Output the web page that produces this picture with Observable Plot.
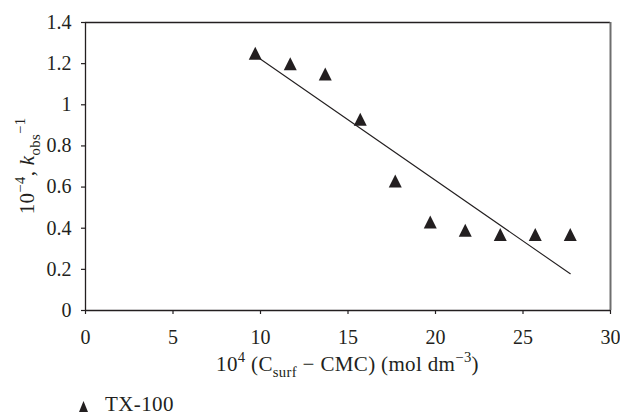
<!DOCTYPE html>
<html>
<head>
<meta charset="utf-8">
<script src="https://cdn.jsdelivr.net/npm/d3@7"></script>
<script src="https://cdn.jsdelivr.net/npm/@observablehq/plot@0.6"></script>
<style>
  html, body { margin: 0; padding: 0; background: #fff; }
  #chart { width: 620px; font-family: "Liberation Serif", serif; color: #231f20; }
  .legend { position: relative; height: 30px; font-size: 21px; }
  .legend svg { position: absolute; left: 79px; top: 16px; }
  .legend span { position: absolute; left: 105px; top: 9px; line-height: 21px; letter-spacing: 0.4px; }
</style>
</head>
<body>
<div id="chart"></div>
<script>
// Surfactant concentration above CMC (×10^4 mol dm^-3) and 10^-4 k_obs^-1 for TX-100
const concentration = [9.7, 11.7, 13.7, 15.7, 17.7, 19.7, 21.7, 23.7, 25.7, 27.7];
const invRate = [1.25, 1.2, 1.15, 0.93, 0.63, 0.43, 0.39, 0.37, 0.37, 0.37];

const xTicks = [0, 5, 10, 15, 20, 25, 30];
const xTickLabels = ["0", "5", "10", "15", "20", "25", "30"];
const yTicks = [0, 0.2, 0.4, 0.6, 0.8, 1, 1.2, 1.4];
const yTickLabels = ["0", "0.2", "0.4", "0.6", "0.8", "1", "1.2", "1.4"];

const seriesName = "TX-100";
const ink = "#231f20";

const data = concentration.map((x, i) => ({x, y: invRate[i]}));

// filled triangle whose width equals its height
const triangle = {
  draw(ctx, size) {
    const r = Math.sqrt(size / Math.PI);
    ctx.moveTo(0, -r);
    ctx.lineTo(r, r);
    ctx.lineTo(-r, r);
    ctx.closePath();
  }
};

const plot = Plot.plot({
  width: 620,
  height: 385,
  marginLeft: 85,
  marginRight: 10,
  marginTop: 22,
  marginBottom: 75,
  style: {fontFamily: "Liberation Serif, serif", fontSize: "20px", color: ink, background: "#fff"},
  x: {domain: [0, 30]},
  y: {domain: [0, 1.4]},
  marks: [
    Plot.ruleY([1.4], {stroke: ink, strokeWidth: 1.3}),
    Plot.ruleX([30], {stroke: "#6e6e6e", strokeWidth: 2}),
    Plot.axisX({ticks: xTicks, tickFormat: d => xTickLabels[xTicks.indexOf(d)],
      tickSize: 4, tickPadding: 15, label: null, stroke: ink, strokeWidth: 1.2}),
    Plot.axisY({ticks: yTicks, tickFormat: d => yTickLabels[yTicks.indexOf(d)],
      tickSize: 4, tickPadding: 10, label: null, stroke: ink, strokeWidth: 1.2}),
    Plot.ruleY([0], {stroke: ink, strokeWidth: 1.3}),
    Plot.ruleX([0], {stroke: ink, strokeWidth: 1.3}),
    Plot.linearRegressionY(data, {x: "x", y: "y", ci: 0, stroke: ink, strokeWidth: 1.1}),
    Plot.dot(data, {x: "x", y: "y", symbol: triangle, r: 6.5, fill: ink, stroke: "none"})
  ]
});

// Axis titles with sub/superscripts
const xs = plot.scale("x"), ys = plot.scale("y");
const svg = d3.select(plot);
const titleSize = 21;

function richText(sel, parts) {
  let shift = 0;
  for (const p of parts) {
    const target = p.sup ? -0.45 : p.sub ? 0.3 : 0;
    const small = p.sup || p.sub;
    sel.append("tspan")
      .attr("dy", `${(target - shift) * titleSize}px`)
      .attr("font-size", small ? `${titleSize * 0.7}px` : null)
      .attr("font-style", p.italic ? "italic" : null)
      .text(p.t);
    shift = target;
  }
}

const xTitle = svg.append("text")
  .attr("x", (xs.apply(0) + xs.apply(30)) / 2)
  .attr("y", 371)
  .attr("text-anchor", "middle")
  .attr("fill", ink)
  .attr("letter-spacing", "0.35px")
  .attr("font-size", `${titleSize}px`);
richText(xTitle, [
  {t: "10"}, {t: "4", sup: true}, {t: " (C"}, {t: "surf", sub: true},
  {t: " \u2212 CMC) (mol dm"}, {t: "\u22123", sup: true}, {t: ")"}
]);

const yTitle = svg.append("text")
  .attr("transform", `translate(34,${(ys.apply(0) + ys.apply(1.4)) / 2}) rotate(-90)`)
  .attr("text-anchor", "middle")
  .attr("fill", ink)
  .attr("letter-spacing", "0.35px")
  .attr("font-size", `${titleSize}px`);
richText(yTitle, [
  {t: "10"}, {t: "\u22124", sup: true}, {t: ", "}, {t: "k", italic: true},
  {t: "obs", sub: true}, {t: "\u22121", sup: true}
]);

const chart = document.getElementById("chart");
chart.append(plot);

// Series key below the chart
const legend = d3.select(chart).append("div").attr("class", "legend");
const key = legend.append("svg").attr("width", 10).attr("height", 12);
key.append("path").attr("d", "M4.5,0L9,11L0,11Z").attr("fill", ink);
legend.append("span").text(seriesName);
</script>
</body>
</html>
